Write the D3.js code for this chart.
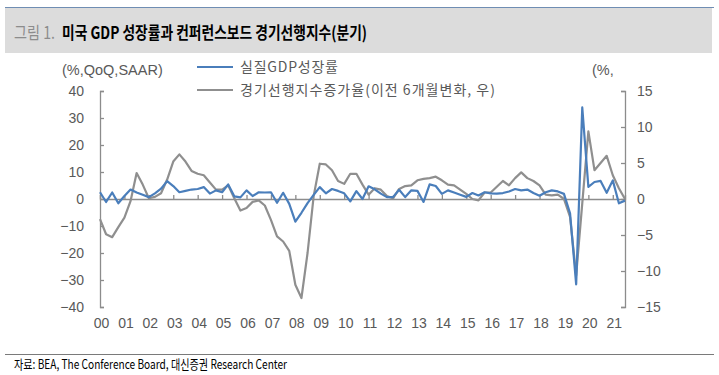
<!DOCTYPE html>
<html><head><meta charset="utf-8">
<script src="https://cdn.jsdelivr.net/npm/d3@7"></script>
<style>
html,body{margin:0;padding:0;background:#fff;}
svg{display:block;}
</style></head>
<body>
<svg id="c" width="719" height="375"></svg>
<script>
// ---- data (quarterly, 2000Q4 .. 2022Q2) ----
const startYear = 2000, startQ = 4, nQuarters = 87;
const categories = [];
for (let i = 0; i < nQuarters; i++) {
  const q = startQ - 1 + i;
  categories.push((startYear + Math.floor(q / 4)) + "Q" + (q % 4 + 1));
}
const gdpGrowth = [
  2.5,
  -1.1, 2.4, -1.6, 1.1,
  3.5, 2.4, 1.6, 0.7,
  2.1, 3.8, 6.6, 4.8,
  2.5, 3.0, 3.5, 3.7,
  4.4, 2.0, 3.2, 2.5,
  5.4, 1.0, 0.6, 3.2,
  1.1, 2.5, 2.4, 2.5,
  -1.4, 2.3, -1.8, -8.4,
  -5.1, -1.5, 1.5, 4.4,
  2.1, 3.7, 3.0, 2.1,
  -0.9, 2.9, 0.0, 4.7,
  3.6, 2.0, 0.7, 0.7,
  3.4, 0.7, 3.2, 3.0,
  -1.1, 5.4, 4.8, 1.9,
  3.2, 2.4, 1.6, 0.8,
  2.2, 1.3, 2.5, 2.1,
  2.0, 2.2, 2.8, 3.7,
  3.2, 3.5, 2.2, 1.2,
  2.5, 3.2, 2.8, 1.9,
  -5.3, -31.6, 33.9, 4.5,
  6.3, 6.7, 2.3, 6.9,
  -1.6, -0.6
];
const leiChange = [
  -2.8,
  -4.9, -5.3, -3.9, -2.6,
  -0.3, 3.6, 2.0, 0.1,
  0.3, 0.8, 2.7, 5.2,
  6.2, 5.2, 3.9, 3.5,
  3.3, 2.3, 1.3, 1.3,
  1.9, 0.1, -1.6, -1.25,
  -0.4, -0.2, -0.9, -2.9,
  -5.2, -5.9, -7.2, -11.9,
  -13.75, -7.5, 0.4, 4.9,
  4.8, 4.0, 2.5, 2.1,
  3.5, 3.5, 2.0, 0.6,
  1.5, 1.3, 0.4, 0.1,
  1.4, 1.8, 1.9, 2.6,
  2.8, 2.9, 3.1, 2.6,
  2.0, 1.9, 1.3, 0.7,
  0.0, -0.2, 0.9, 0.9,
  1.7, 2.5, 1.9, 2.9,
  3.7, 2.9, 2.5, 1.9,
  0.6, 0.5, 0.6, 0.0,
  -2.5, -10.6, -0.6, 9.4,
  4.0, 5.0, 6.0, 3.3,
  1.5, 0.0
];
const xTickLabels = ["00","01","02","03","04","05","06","07","08","09","10",
  "11","12","13","14","15","16","17","18","19","20","21"];
const leftTicks = [-40,-30,-20,-10,0,10,20,30,40];
const rightTicks = [-15,-10,-5,0,5,10,15];
const seriesNames = ["실질GDP성장률", "경기선행지수증가율(이전 6개월변화, 우)"];
const titlePrefix = "그림 1.";
const titleText = "미국 GDP 성장률과 컨퍼런스보드 경기선행지수(분기)";
const leftUnit = "(%,QoQ,SAAR)";
const rightUnit = "(%,";
const sourceText = "자료: BEA, The Conference Board, 대신증권 Research Center";

// ---- drawing ----
const svg = d3.select("#c");
const KR = "'Noto Sans CJK KR', 'Liberation Sans', sans-serif";
const NUM = "'Liberation Sans', Arial, sans-serif";
const axisCol = "#8c8c8c", textCol = "#595959";
const blue = "#4a7ebb", gray = "#8f8f8f";

const L = 100, R = 625, T = 91, B = 307;
const x = d3.scalePoint().domain(categories).range([L, R]);
const yL = d3.scaleLinear().domain([-40, 40]).range([B, T]);
const yR = d3.scaleLinear().domain([-15, 15]).range([B, T]);

// title band
svg.append("line").attr("x1", 5).attr("x2", 714).attr("y1", 7.5).attr("y2", 7.5)
  .attr("stroke", "#6f8db3").attr("stroke-width", 1);
svg.append("rect").attr("x", 5).attr("y", 8).attr("width", 707).attr("height", 45).attr("fill", "#dcdcdc");
svg.append("text").attr("x", 14).attr("y", 39).attr("font-family", KR).attr("font-size", 17)
  .attr("fill", "#8c8c8c").attr("textLength", 41).attr("lengthAdjust", "spacingAndGlyphs").text(titlePrefix);
svg.append("text").attr("x", 62).attr("y", 39).attr("font-family", KR).attr("font-size", 17)
  .attr("font-weight", "bold").attr("fill", "#000")
  .attr("textLength", 305).attr("lengthAdjust", "spacingAndGlyphs").text(titleText);

// axes
const gL = svg.append("g").attr("transform", `translate(${L},0)`)
  .call(d3.axisLeft(yL).tickValues(leftTicks).tickSize(-4).tickPadding(16).tickFormat(d3.format("d")));
const gR = svg.append("g").attr("transform", `translate(${R},0)`)
  .call(d3.axisRight(yR).tickValues(rightTicks).tickSize(-4).tickPadding(12).tickFormat(d3.format("d")));
[gL, gR].forEach(g => {
  g.select(".domain").attr("stroke", axisCol).attr("stroke-width", 1.3);
  g.selectAll(".tick line").attr("stroke", axisCol).attr("stroke-width", 1.3);
  g.selectAll(".tick text").attr("fill", textCol).attr("font-family", NUM).attr("font-size", 14);
});

// x axis along zero
const tickCats = xTickLabels.map((_, i) => categories[i * 4]);
const gX = svg.append("g").attr("transform", `translate(0,${yL(0)})`)
  .call(d3.axisTop(x).tickValues(tickCats).tickSize(4).tickFormat(() => ""));
gX.select(".domain").attr("stroke", axisCol).attr("stroke-width", 1.3);
gX.selectAll(".tick line").attr("stroke", axisCol).attr("stroke-width", 1.3);
svg.append("g").selectAll("text").data(xTickLabels).join("text")
  .attr("x", (d, i) => x(tickCats[i]) + 1.5).attr("y", 328)
  .attr("text-anchor", "middle").attr("font-family", NUM).attr("font-size", 14)
  .attr("fill", textCol).text(d => d);

// lines
const lineL = d3.line().x((d, i) => x(categories[i])).y(d => yL(d));
const lineR = d3.line().x((d, i) => x(categories[i])).y(d => yR(d));
svg.append("path").datum(leiChange).attr("d", lineR).attr("fill", "none")
  .attr("stroke", gray).attr("stroke-width", 2.2).attr("stroke-linejoin", "round");
svg.append("path").datum(gdpGrowth).attr("d", lineL).attr("fill", "none")
  .attr("stroke", blue).attr("stroke-width", 2.2).attr("stroke-linejoin", "round");

// units
svg.append("text").attr("x", 62).attr("y", 75).attr("font-family", NUM).attr("font-size", 14.5)
  .attr("fill", textCol).text(leftUnit);
svg.append("text").attr("x", 592).attr("y", 75).attr("font-family", NUM).attr("font-size", 14.5)
  .attr("fill", textCol).text(rightUnit);

// legend
const legY = [67, 90], legCol = [blue, gray], legW = [98, 255];
seriesNames.forEach((n, i) => {
  svg.append("line").attr("x1", 197).attr("x2", 233).attr("y1", legY[i]).attr("y2", legY[i])
    .attr("stroke", legCol[i]).attr("stroke-width", 2.2);
  svg.append("text").attr("x", 240).attr("y", legY[i] + 5).attr("font-family", KR).attr("font-size", 14)
    .attr("fill", textCol).attr("textLength", legW[i]).attr("lengthAdjust", "spacing").text(n);
});

// source
svg.append("line").attr("x1", 5).attr("x2", 714).attr("y1", 354.5).attr("y2", 354.5)
  .attr("stroke", "#7a7a7a").attr("stroke-width", 1);
svg.append("text").attr("x", 14).attr("y", 369).attr("font-family", KR).attr("font-size", 13)
  .attr("fill", "#000").attr("textLength", 273).attr("lengthAdjust", "spacingAndGlyphs").text(sourceText);
</script>
</body></html>
